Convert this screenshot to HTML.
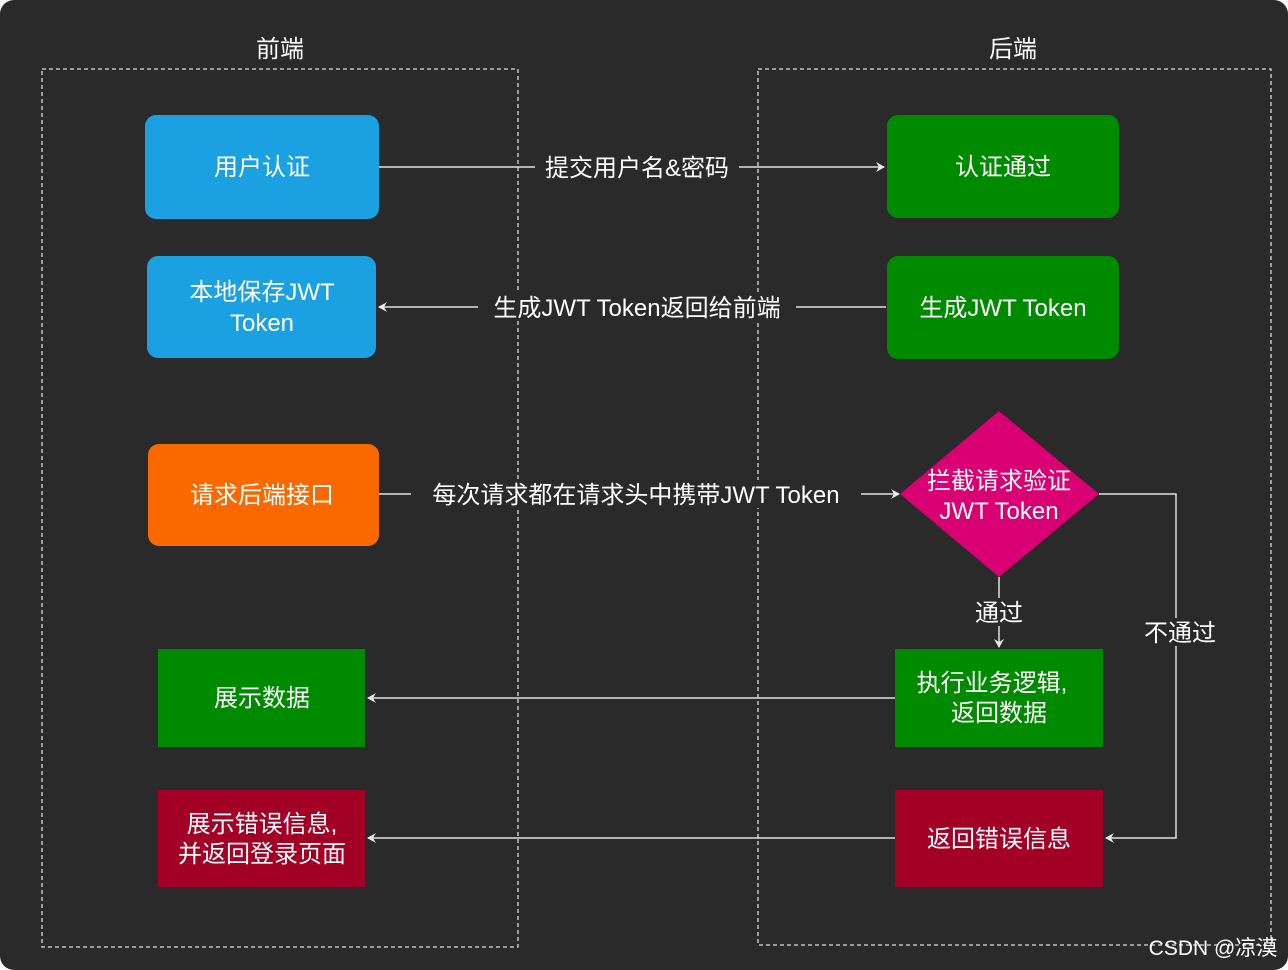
<!DOCTYPE html>
<html><head><meta charset="utf-8"><style>
html,body{margin:0;padding:0;background:#fff;}
svg{display:block;}
text{font-family:"Liberation Sans","Noto Sans CJK SC",sans-serif;fill:#fff;}
</style></head><body>
<svg width="1288" height="970" viewBox="0 0 1288 970" xmlns="http://www.w3.org/2000/svg">
<defs>
<marker id="a" markerWidth="10" markerHeight="10" refX="8" refY="5" orient="auto" markerUnits="userSpaceOnUse">
<path d="M0,0 L9,5 L0,10 L3,5 Z" fill="#e8e8e8"/></marker>
</defs>
<rect x="0" y="0" width="1288" height="970" rx="14" fill="#2a2a2a"/>
<g fill="none" stroke="#ddd" stroke-width="1.3" stroke-dasharray="4,3">
<rect x="42" y="69" width="476" height="878"/>
<rect x="758" y="69" width="513" height="876"/>
</g>
<text x="280" y="57" font-size="24" text-anchor="middle">前端</text>
<text x="1013" y="57" font-size="24" text-anchor="middle">后端</text>

<g stroke="#e0e0e0" stroke-width="1.5" fill="none">
<line x1="379" y1="167" x2="884" y2="167" marker-end="url(#a)"/>
<line x1="886" y1="307" x2="379" y2="307" marker-end="url(#a)"/>
<line x1="379" y1="494" x2="899" y2="494" marker-end="url(#a)"/>
<line x1="999" y1="577" x2="999" y2="647" marker-end="url(#a)"/>
<polyline points="1099,494 1176,494 1176,838 1106,838" marker-end="url(#a)"/>
<line x1="895" y1="698" x2="368" y2="698" marker-end="url(#a)"/>
<line x1="895" y1="838" x2="368" y2="838" marker-end="url(#a)"/>
</g>

<rect x="145" y="115" width="234" height="104" rx="11" fill="#1ba1e2"/>
<text x="262" y="175" font-size="24" text-anchor="middle">用户认证</text>
<rect x="147" y="256" width="229" height="102" rx="11" fill="#1ba1e2"/>
<text x="262" y="300" font-size="24" text-anchor="middle">本地保存JWT</text>
<text x="262" y="331" font-size="24" text-anchor="middle">Token</text>
<rect x="148" y="444" width="231" height="102" rx="11" fill="#fa6800"/>
<text x="262" y="503" font-size="24" text-anchor="middle">请求后端接口</text>
<rect x="158" y="649" width="207" height="98" fill="#008a00"/>
<text x="262" y="706" font-size="24" text-anchor="middle">展示数据</text>
<rect x="158" y="790" width="207" height="97" fill="#a20025"/>
<text x="262" y="832" font-size="24" text-anchor="middle">展示错误信息,</text>
<text x="262" y="862" font-size="24" text-anchor="middle">并返回登录页面</text>

<rect x="887" y="115" width="232" height="103" rx="11" fill="#008a00"/>
<text x="1003" y="175" font-size="24" text-anchor="middle">认证通过</text>
<rect x="887" y="256" width="232" height="103" rx="11" fill="#008a00"/>
<text x="1003" y="316" font-size="24" text-anchor="middle">生成JWT Token</text>
<polygon points="999,411 1099,494 999,577 900,494" fill="#d80073"/>
<text x="999" y="489" font-size="24" text-anchor="middle">拦截请求验证</text>
<text x="999" y="519" font-size="24" text-anchor="middle">JWT Token</text>
<rect x="895" y="649" width="208" height="98" fill="#008a00"/>
<text x="992" y="691" font-size="24" text-anchor="middle">执行业务逻辑,</text>
<text x="999" y="721" font-size="24" text-anchor="middle">返回数据</text>
<rect x="895" y="790" width="208" height="97" fill="#a20025"/>
<text x="999" y="847" font-size="24" text-anchor="middle">返回错误信息</text>

<g font-size="24" text-anchor="middle">
<rect x="535" y="153" width="204" height="28" fill="#2a2a2a"/>
<text x="637" y="176">提交用户名&amp;密码</text>
<rect x="478" y="293" width="318" height="28" fill="#2a2a2a"/>
<text x="637" y="316">生成JWT Token返回给前端</text>
<rect x="411" y="480" width="450" height="28" fill="#2a2a2a"/>
<text x="636" y="503">每次请求都在请求头中携带JWT Token</text>
<rect x="972" y="598" width="54" height="28" fill="#2a2a2a"/>
<text x="999" y="621">通过</text>
<rect x="1140" y="618" width="80" height="28" fill="#2a2a2a"/>
<text x="1180" y="641">不通过</text>
</g>
<text x="1213" y="955" font-size="21" text-anchor="middle" fill="#ddd">CSDN @凉漠</text>
</svg>
</body></html>
